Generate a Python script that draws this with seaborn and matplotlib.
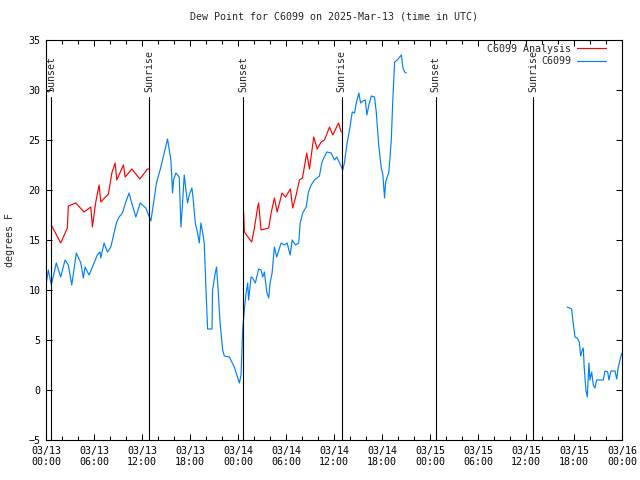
import pandas as pd
import seaborn as sns
import matplotlib.pyplot as plt
import matplotlib.dates as mdates
from matplotlib.lines import Line2D

# hours after 2025-03-13 00:00 UTC, values in degrees F
analysis_hours_1 = [0.66, 1.84, 2.67, 2.79, 3.72, 4.76, 5.60, 5.80, 6.22, 6.64, 6.85, 7.80, 8.23, 8.64,
                    8.85, 9.68, 9.89, 10.73, 11.73, 12.68, 12.90]
analysis_dewpt_1 = [16.5, 14.7, 16.2, 18.4, 18.7, 17.8, 18.3, 16.3, 18.8, 20.5, 18.8, 19.6, 21.7, 22.7,
                    21.0, 22.5, 21.3, 22.1, 21.1, 22.1, 22.1]
analysis_hours_2 = [24.71, 24.79, 25.71, 26.05, 26.46, 26.58, 26.88, 27.84, 28.14, 28.55, 28.89, 29.51,
                    29.93, 30.55, 30.84, 31.27, 31.68, 32.06, 32.59, 32.93, 33.47, 33.90, 34.40, 34.81,
                    35.44, 35.85, 36.56, 36.90]
analysis_dewpt_2 = [17.7, 15.8, 14.8, 16.2, 18.3, 18.7, 16.0, 16.2, 17.7, 19.2, 17.8, 19.7,
                    19.3, 20.1, 18.2, 19.5, 21.0, 21.2, 23.7, 22.1, 25.3, 24.1, 24.8, 25.0,
                    26.3, 25.5, 26.7, 25.8]

obs_hours_1 = [0.06, 0.29, 0.66, 1.29, 1.84, 2.38, 2.79, 3.22, 3.79, 4.35, 4.67, 4.88, 5.38, 6.01,
               6.42, 6.76, 6.85, 7.26, 7.68, 8.10, 8.80, 9.14, 9.55, 9.98, 10.39, 10.61, 11.23, 11.77,
               12.48, 13.11, 13.81, 14.36, 15.19, 15.61, 15.82, 15.94, 16.24, 16.65, 16.87, 17.07,
               17.28, 17.49, 17.69, 17.91, 18.24, 18.41, 18.66, 18.95, 19.16, 19.37, 19.57, 19.78,
               20.00, 20.20, 20.75, 20.82, 21.16, 21.32, 21.54, 21.75, 22.08, 22.29, 22.92, 23.54,
               24.17, 24.38, 24.58, 24.79, 25.01, 25.21, 25.33, 25.63, 25.83, 26.17, 26.58, 26.88,
               27.09, 27.30, 27.59, 27.84, 28.01, 28.26, 28.55, 28.84, 29.39, 29.80, 30.14, 30.52,
               30.77, 31.18, 31.59, 31.77, 32.09, 32.52, 32.81, 33.15, 33.56, 34.18, 34.47, 34.72,
               35.10, 35.65, 36.06, 36.35, 36.69, 37.10, 37.32, 37.60, 37.94, 38.28, 38.57, 38.78,
               39.11, 39.32, 39.61, 39.91, 40.11, 40.36, 40.66, 41.07, 41.28, 41.61, 41.91, 42.11,
               42.32, 42.45, 42.86, 43.16, 43.36, 43.58, 43.91, 44.11, 44.42, 44.62, 44.83, 45.04]
obs_dewpt_1 = [10.8, 12.0, 10.5, 12.7, 11.3, 13.0, 12.5, 10.5, 13.7, 12.7, 11.2, 12.3, 11.5, 12.7,
               13.5, 13.8, 13.2, 14.7, 13.8, 14.3, 16.7, 17.3, 17.7, 18.8, 19.7, 19.0, 17.3, 18.7,
               18.2, 16.9, 20.7, 22.3, 25.1, 23.0, 19.7, 21.0, 21.7, 21.3, 16.3, 18.7,
               21.5, 20.0, 18.7, 19.5, 20.2, 19.0, 16.7, 15.7, 14.7, 16.7, 15.8, 14.7,
               10.0, 6.1, 6.1, 10.0, 11.7, 12.3, 9.7, 6.8, 4.0, 3.4, 3.3, 2.3,
               0.7, 1.5, 6.0, 8.0, 9.7, 10.7, 9.0, 11.3, 11.2, 10.7, 12.1, 12.0,
               11.3, 11.8, 9.8, 9.2, 10.7, 11.7, 14.3, 13.3, 14.7, 14.5, 14.7, 13.5,
               15.0, 14.5, 14.7, 16.7, 17.7, 18.3, 19.8, 20.5, 21.0, 21.4, 22.7, 23.2,
               23.8, 23.7, 23.0, 23.3, 22.7, 22.0, 22.8, 24.5, 26.0, 27.8, 27.7, 28.7,
               29.7, 28.7, 28.9, 29.0, 27.5, 28.5, 29.4, 29.3, 27.8, 24.3, 22.2, 21.5,
               19.2, 20.8, 21.8, 25.0, 29.2, 32.8, 33.0, 33.2, 33.5, 32.2, 31.8, 31.7]
obs_hours_2 = [65.15, 65.70, 65.90, 66.12, 66.40, 66.66, 66.83, 66.96, 67.16, 67.28, 67.49, 67.66,
               67.87, 67.99, 68.21, 68.41, 68.62, 68.83, 69.66, 69.87, 70.21, 70.37, 70.62, 71.13,
               71.34, 71.54, 71.75, 71.87, 72.0]
obs_dewpt_2 = [8.3, 8.1, 6.7, 5.3, 5.2, 4.8, 3.4, 3.8, 4.2, 2.2, 0.0, -0.7,
               2.7, 1.0, 1.8, 0.5, 0.2, 1.0, 1.0, 1.9, 1.8, 1.0, 1.9, 1.9,
               1.1, 2.3, 3.0, 3.4, 3.7]

event_hours = [0.66, 12.90, 24.67, 36.94, 48.71, 60.86]
event_names = ["Sunset", "Sunrise", "Sunset", "Sunrise", "Sunset", "Sunrise"]

red = "#ff0000"
blue = "#0080ff"
start = pd.Timestamp("2025-03-13 00:00")


def to_time(hours):
    return start + pd.to_timedelta(pd.Series(hours, dtype=float), unit="h")


sns.set_theme(style="ticks")
plt.rcParams["font.family"] = ["DejaVu Sans Mono"]
plt.rcParams["font.size"] = 7.2

fig = plt.figure(figsize=(6.4, 4.8), dpi=100)
ax = fig.add_axes([46 / 640, 40 / 480, 576 / 640, 400 / 480])

for hrs, vals in [(analysis_hours_1, analysis_dewpt_1), (analysis_hours_2, analysis_dewpt_2)]:
    sns.lineplot(x=to_time(hrs), y=vals, color=red, linewidth=0.85, ax=ax)
for hrs, vals in [(obs_hours_1, obs_dewpt_1), (obs_hours_2, obs_dewpt_2)]:
    sns.lineplot(x=to_time(hrs), y=vals, color=blue, linewidth=0.85, ax=ax)

# sunrise / sunset markers
for h, name in zip(event_hours, event_names):
    t = start + pd.Timedelta(hours=h)
    ax.plot([t, t], [-5, 29.3], color="black", linewidth=0.8)
    ax.text(t, 29.8, name, rotation=90, ha="center", va="bottom", fontsize=7.2)

ax.set_xlim(start, start + pd.Timedelta(hours=72))
ax.set_ylim(-5, 35)
ax.set_yticks(range(-5, 36, 5))
ax.xaxis.set_major_locator(mdates.HourLocator(byhour=range(0, 24, 6)))
ax.xaxis.set_minor_locator(mdates.HourLocator(byhour=range(0, 24, 2)))
ax.xaxis.set_major_formatter(mdates.DateFormatter("%m/%d\n%H:%M"))
ax.tick_params(which="both", direction="in", top=True, right=True, width=0.75,
               labelsize=7.2, colors="black")
ax.tick_params(which="major", length=4, pad=4)
ax.tick_params(which="minor", length=3)
for s in ax.spines.values():
    s.set_color("black")
    s.set_linewidth(0.8)

ax.set_xlabel("")
ax.set_ylabel("degrees F", fontsize=7.2, labelpad=10)
ax.set_title("Dew Point for C6099 on 2025-Mar-13 (time in UTC)", fontsize=7.2, pad=15)

handles = [Line2D([], [], color=red, linewidth=0.85), Line2D([], [], color=blue, linewidth=0.85)]
ax.legend(handles, ["C6099 Analysis", "C6099"], loc="upper right",
          bbox_to_anchor=(1 - 9 / 576, 1 + 3 / 400), frameon=False,
          markerfirst=False, handlelength=2.9, borderaxespad=0.3, labelspacing=0.25,
          handletextpad=0.6, fontsize=7.2)

fig.savefig("out.png", dpi=100)
